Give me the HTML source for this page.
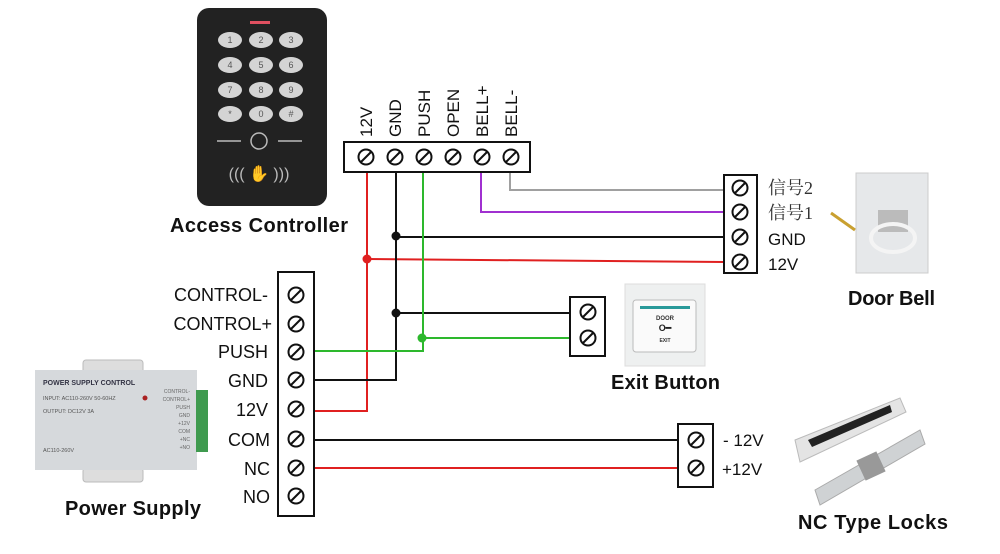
<!DOCTYPE html>
<html><head><meta charset="utf-8"><style>
body{margin:0;background:#fff}
svg{display:block}
text{font-family:"Liberation Sans",Arial,sans-serif}
.cn{font-family:"Liberation Serif","Noto Serif CJK SC",serif}
</style></head><body>
<svg width="1000" height="554" viewBox="0 0 1000 554" xmlns="http://www.w3.org/2000/svg">
<defs>
<g id="s"><circle r="7.5" fill="#fff" stroke="#111" stroke-width="2"/><line x1="-5.5" y1="5.5" x2="5.5" y2="-5.5" stroke="#111" stroke-width="2"/></g>
</defs>

<!-- keypad -->
<rect x="197" y="8" width="130" height="198" rx="12" fill="#222"/>
<rect x="250" y="21" width="20" height="3" fill="#e05060"/>
<g fill="#d4d4d4">
<ellipse cx="230" cy="40" rx="12" ry="8"/><ellipse cx="261" cy="40" rx="12" ry="8"/><ellipse cx="291" cy="40" rx="12" ry="8"/>
<ellipse cx="230" cy="65" rx="12" ry="8"/><ellipse cx="261" cy="65" rx="12" ry="8"/><ellipse cx="291" cy="65" rx="12" ry="8"/>
<ellipse cx="230" cy="90" rx="12" ry="8"/><ellipse cx="261" cy="90" rx="12" ry="8"/><ellipse cx="291" cy="90" rx="12" ry="8"/>
<ellipse cx="230" cy="114" rx="12" ry="8"/><ellipse cx="261" cy="114" rx="12" ry="8"/><ellipse cx="291" cy="114" rx="12" ry="8"/>
</g>
<g font-size="9" fill="#555" text-anchor="middle">
<text x="230" y="43">1</text><text x="261" y="43">2</text><text x="291" y="43">3</text>
<text x="230" y="68">4</text><text x="261" y="68">5</text><text x="291" y="68">6</text>
<text x="230" y="93">7</text><text x="261" y="93">8</text><text x="291" y="93">9</text>
<text x="230" y="117">*</text><text x="261" y="117">0</text><text x="291" y="117">#</text>
</g>
<line x1="217" y1="141" x2="241" y2="141" stroke="#bbb" stroke-width="1.5"/>
<line x1="278" y1="141" x2="302" y2="141" stroke="#bbb" stroke-width="1.5"/>
<circle cx="259" cy="141" r="8" fill="none" stroke="#bbb" stroke-width="1.5"/>
<text x="259" y="179" font-size="16" fill="#bbb" text-anchor="middle">((( ✋ )))</text>

<!-- power supply -->
<rect x="83" y="360" width="60" height="14" rx="3" fill="#ddd" stroke="#bbb"/>
<rect x="83" y="468" width="60" height="14" rx="3" fill="#ddd" stroke="#bbb"/>
<rect x="35" y="370" width="162" height="100" fill="#d6d9dc"/>
<rect x="196" y="390" width="12" height="62" fill="#3f9a4f"/>
<text x="43" y="385" font-size="7" font-weight="bold" fill="#334">POWER SUPPLY CONTROL</text>
<text x="43" y="400" font-size="5.5" fill="#555">INPUT: AC110-260V 50-60HZ</text>
<text x="43" y="413" font-size="5.5" fill="#555">OUTPUT: DC12V  3A</text>
<text x="43" y="452" font-size="5.5" fill="#555">AC110-260V</text>
<circle cx="145" cy="398" r="2.5" fill="#a22"/>
<text x="190" y="393" font-size="5" fill="#666" text-anchor="end">CONTROL-</text>
<text x="190" y="401" font-size="5" fill="#666" text-anchor="end">CONTROL+</text>
<text x="190" y="409" font-size="5" fill="#666" text-anchor="end">PUSH</text>
<text x="190" y="417" font-size="5" fill="#666" text-anchor="end">GND</text>
<text x="190" y="425" font-size="5" fill="#666" text-anchor="end">+12V</text>
<text x="190" y="433" font-size="5" fill="#666" text-anchor="end">COM</text>
<text x="190" y="441" font-size="5" fill="#666" text-anchor="end">+NC</text>
<text x="190" y="449" font-size="5" fill="#666" text-anchor="end">+NO</text>

<!-- door bell -->
<rect x="856" y="173" width="72" height="100" fill="#e6e8ea" stroke="#ccc"/>
<rect x="878" y="210" width="30" height="22" fill="#bbb"/>
<ellipse cx="893" cy="238" rx="22" ry="14" fill="none" stroke="#f4f4f4" stroke-width="4"/>
<path d="M831 213 L855 230" stroke="#c9a030" stroke-width="3"/>

<!-- exit button -->
<rect x="625" y="284" width="80" height="82" fill="#eef0f0" stroke="#ddd"/>
<rect x="633" y="300" width="63" height="52" rx="3" fill="#fafafa" stroke="#bbb"/>
<rect x="640" y="306" width="50" height="3" fill="#2a9a9a"/>
<text x="665" y="320" font-size="6" font-weight="bold" text-anchor="middle" fill="#333">DOOR</text>
<text x="665" y="331" font-size="9" font-weight="bold" text-anchor="middle" fill="#222">O━</text>
<text x="665" y="342" font-size="5" font-weight="bold" text-anchor="middle" fill="#333">EXIT</text>

<!-- locks -->
<polygon points="795,440 900,398 906,412 800,462" fill="#e4e4e4" stroke="#bbb"/>
<polygon points="808,440 890,405 892,412 812,447" fill="#222"/>
<polygon points="815,490 920,430 925,444 820,505" fill="#cfd2d4" stroke="#aaa"/>
<rect x="860" y="455" width="22" height="22" fill="#999" transform="rotate(-25 871 466)"/>

<!-- wires -->
<g fill="none" stroke-width="2">
<polyline points="367,172 367,411 314,411" stroke="#e02020"/>
<line x1="367" y1="259" x2="724" y2="262" stroke="#e02020"/>
<polyline points="396,172 396,380 314,380" stroke="#111"/>
<line x1="396" y1="237" x2="724" y2="237" stroke="#111"/>
<line x1="396" y1="313" x2="570" y2="313" stroke="#111"/>
<polyline points="423,172 423,351 314,351" stroke="#2db82d"/>
<line x1="422" y1="338" x2="570" y2="338" stroke="#2db82d"/>
<polyline points="481,172 481,212 724,212" stroke="#a030d0"/>
<polyline points="510,172 510,190 724,190" stroke="#a0a0a0"/>
<line x1="314" y1="440" x2="678" y2="440" stroke="#111"/>
<line x1="314" y1="468" x2="678" y2="468" stroke="#e02020"/>
</g>
<circle cx="367" cy="259" r="4.5" fill="#e02020"/>
<circle cx="396" cy="236" r="4.5" fill="#111"/>
<circle cx="396" cy="313" r="4.5" fill="#111"/>
<circle cx="422" cy="338" r="4.5" fill="#2db82d"/>

<!-- terminal blocks -->
<rect x="344" y="142" width="186" height="30" fill="#fff" stroke="#111" stroke-width="2"/>
<use href="#s" x="366" y="157"/><use href="#s" x="395" y="157"/><use href="#s" x="424" y="157"/>
<use href="#s" x="453" y="157"/><use href="#s" x="482" y="157"/><use href="#s" x="511" y="157"/>

<rect x="278" y="272" width="36" height="244" fill="#fff" stroke="#111" stroke-width="2"/>
<use href="#s" x="296" y="295"/><use href="#s" x="296" y="324"/><use href="#s" x="296" y="352"/><use href="#s" x="296" y="380"/>
<use href="#s" x="296" y="409"/><use href="#s" x="296" y="439"/><use href="#s" x="296" y="468"/><use href="#s" x="296" y="496"/>

<rect x="724" y="175" width="33" height="98" fill="#fff" stroke="#111" stroke-width="2"/>
<use href="#s" x="740" y="188"/><use href="#s" x="740" y="212"/><use href="#s" x="740" y="237"/><use href="#s" x="740" y="262"/>

<rect x="570" y="297" width="35" height="59" fill="#fff" stroke="#111" stroke-width="2"/>
<use href="#s" x="588" y="312"/><use href="#s" x="588" y="338"/>

<rect x="678" y="424" width="35" height="63" fill="#fff" stroke="#111" stroke-width="2"/>
<use href="#s" x="696" y="440"/><use href="#s" x="696" y="468"/>

<!-- labels -->
<g font-size="17" fill="#111">
<text transform="translate(372,137) rotate(-90)">12V</text>
<text transform="translate(401,137) rotate(-90)">GND</text>
<text transform="translate(430,137) rotate(-90)">PUSH</text>
<text transform="translate(459,137) rotate(-90)">OPEN</text>
<text transform="translate(488,137) rotate(-90)">BELL+</text>
<text transform="translate(517,137) rotate(-90)">BELL-</text>
</g>
<g font-size="18" fill="#111" text-anchor="end">
<text x="268" y="301">CONTROL-</text>
<text x="272" y="330">CONTROL+</text>
<text x="268" y="358">PUSH</text>
<text x="268" y="387">GND</text>
<text x="268" y="416">12V</text>
<text x="270" y="446">COM</text>
<text x="270" y="475">NC</text>
<text x="270" y="503">NO</text>
</g>
<text x="768" y="194" font-size="18" class="cn" fill="#333">信号2</text>
<text x="768" y="219" font-size="18" class="cn" fill="#333">信号1</text>
<text x="768" y="245" font-size="17" fill="#111">GND</text>
<text x="768" y="270" font-size="17" fill="#111">12V</text>
<text x="723" y="446" font-size="17" fill="#111">- 12V</text>
<text x="722" y="475" font-size="17" fill="#111">+12V</text>

<g font-size="20" font-weight="bold" fill="#111">
<text x="170" y="232" textLength="178">Access Controller</text>
<text x="65" y="515" textLength="136">Power Supply</text>
<text x="611" y="389" textLength="109">Exit Button</text>
<text x="848" y="305" textLength="87">Door Bell</text>
<text x="798" y="529" textLength="150">NC Type Locks</text>
</g>
</svg>
</body></html>
